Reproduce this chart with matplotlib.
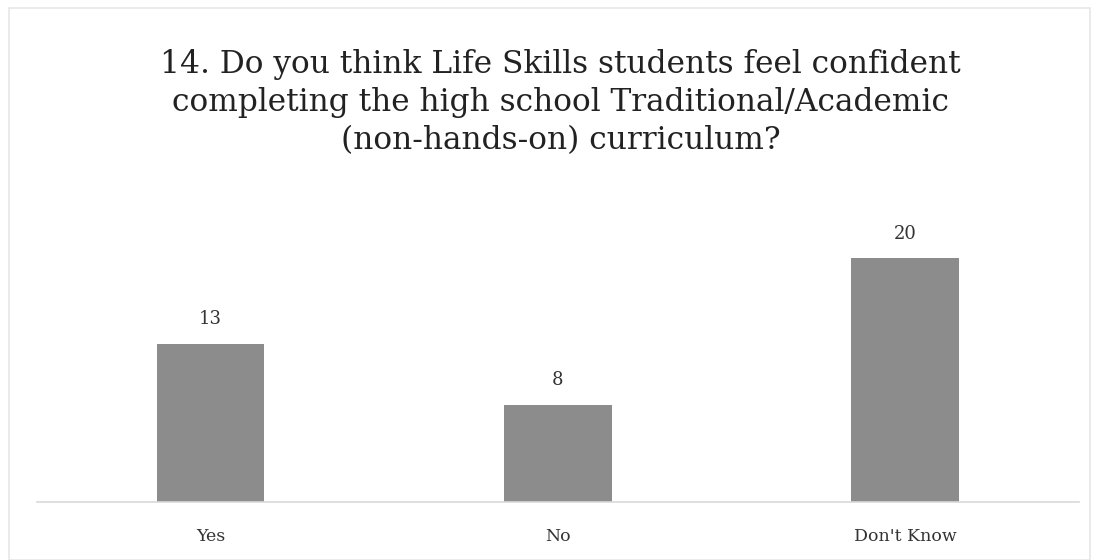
import matplotlib.pyplot as plt
import matplotlib.patches as mpatches

# survey responses for question 14
answers = ["Yes", "No", "Don't Know"]
counts = [13, 8, 20]

title = ("14. Do you think Life Skills students feel confident\n"
         "completing the high school Traditional/Academic\n"
         "(non-hands-on) curriculum?")

plt.rcParams["font.family"] = ["DejaVu Serif"]

fig = plt.figure(figsize=(10.99, 5.6), dpi=100)
ax = fig.add_axes([0.0335, 0.1036, 0.948, 0.4786])

x = range(len(answers))
bars = ax.bar(x, counts, width=0.31, color="#8c8c8c", zorder=2)
for bar, v in zip(bars, counts):
    ax.annotate(str(v), (bar.get_x() + bar.get_width() / 2, v),
                xytext=(0, 11), textcoords="offset points",
                ha="center", va="bottom", fontsize=13, color="#333333")

ax.set_xlim(-0.5, 2.5)
ax.set_ylim(0, 22)
ax.set_xticks(list(x))
ax.set_xticklabels(answers, fontsize=12.5, color="#333333")
ax.tick_params(axis="x", length=0, pad=19)
ax.set_yticks([])
for side in ["top", "right", "left"]:
    ax.spines[side].set_visible(False)
ax.spines["bottom"].set_color("#d9d9d9")
ax.spines["bottom"].set_linewidth(1.2)

fig.text(0.51, 0.913, title, ha="center", va="top", fontsize=22.5,
         color="#222222", linespacing=1.29)

# faint chart border
fig.patches.append(mpatches.Rectangle((0.008, 0.0), 0.984, 0.985,
                                      transform=fig.transFigure, fill=False,
                                      edgecolor="#e6e6e6", linewidth=1.2))

fig.savefig("out.png", dpi=100)
